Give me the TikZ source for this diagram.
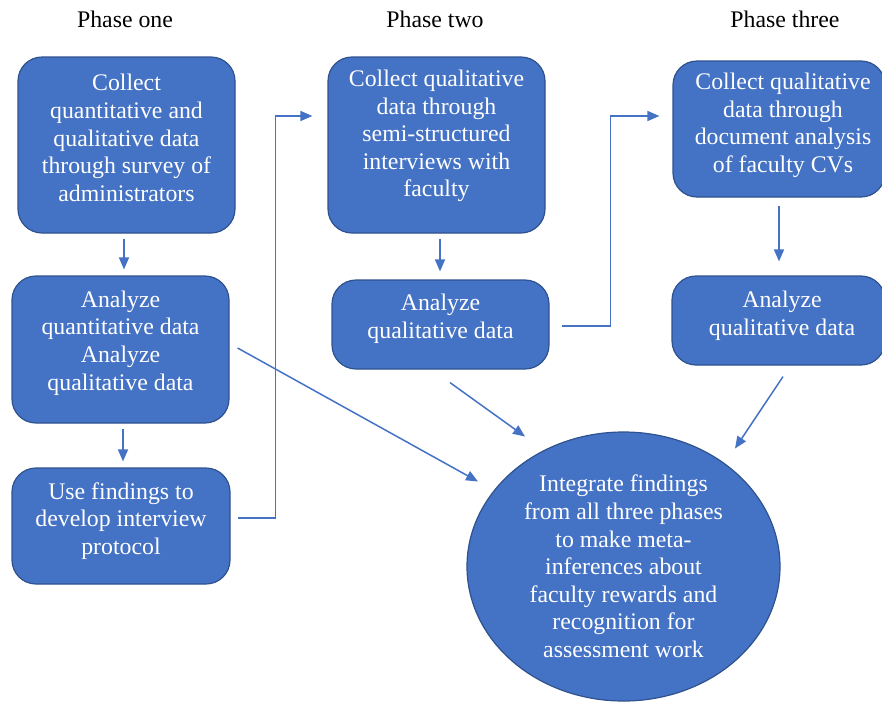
\documentclass[tikz,border=0pt]{standalone}
\usepackage{fontspec}
\setmainfont{Liberation Serif}
\usetikzlibrary{arrows.meta,shapes.geometric,calc}
\definecolor{boxfill}{HTML}{4472C4}
\definecolor{boxline}{HTML}{2F528F}
\tikzset{
  stepbox/.style={draw=boxline, fill=boxfill, line width=1.2pt, rounded corners=24pt, inner sep=0pt},
  bigoval/.style={ellipse, draw=boxline, fill=boxfill, line width=1.2pt, inner sep=0pt},
  boxtext/.style={text=white, align=center, font=\fontsize{23.8}{27.6}\selectfont, inner sep=0pt},
  phasetext/.style={text=black, font=\fontsize{23.8}{27}\selectfont, inner sep=0pt},
  arr/.style={draw=boxfill, line width=1.5pt, -{Triangle[length=12pt,width=10pt]}}
}
\begin{document}
\begin{tikzpicture}[x=1pt,y=-1pt]
\useasboundingbox (0,0) rectangle (882,702);
% phase labels
\node[phasetext] (P1) at (125,19) {Phase one};
\node[phasetext] (P2) at (435,19) {Phase two};
\node[phasetext] (P3) at (785,19) {Phase three};
% boxes
\node[stepbox, minimum width=217pt, minimum height=176pt] (A1) at (126.5,145) {};
\node[stepbox, minimum width=217pt, minimum height=147pt] (A2) at (120.5,349.5) {};
\node[stepbox, minimum width=218pt, minimum height=116pt] (A3) at (121,526) {};
\node[stepbox, minimum width=217pt, minimum height=176pt] (B1) at (436.5,145) {};
\node[stepbox, minimum width=217pt, minimum height=89pt] (B2) at (440.5,324.5) {};
\node[stepbox, minimum width=212pt, minimum height=136pt] (C1) at (779,129) {};
\node[stepbox, minimum width=213pt, minimum height=89pt] (C2) at (778.5,320.5) {};
\node[bigoval, minimum width=313pt, minimum height=269pt] (E) at (623.5,566.5) {};
% texts
\node[boxtext] (A1t) at (126.5,138) {Collect\\quantitative and\\qualitative data\\through survey of\\administrators};
\node[boxtext] (A2t) at (120.5,343) {Analyze\\quantitative data\\Analyze\\qualitative data};
\node[boxtext] (A3t) at (121,521) {Use findings to\\develop interview\\protocol};
\node[boxtext] (B1t) at (436.5,136) {Collect qualitative\\data through\\semi-structured\\interviews with\\faculty};
\node[boxtext] (B2t) at (440.5,319) {Analyze\\qualitative data};
\node[boxtext] (C1t) at (783,125.5) {Collect qualitative\\data through\\document analysis\\of faculty CVs};
\node[boxtext] (C2t) at (782,316) {Analyze\\qualitative data};
\node[boxtext] (Et) at (623.5,566.5) {Integrate findings\\from all three phases\\to make meta-\\inferences about\\faculty rewards and\\recognition for\\assessment work};
% connectors
\draw[arr, shorten <=5pt, shorten >=6pt] ([xshift=-2.5pt]A1.south) -- ([xshift=-2.5pt]A1.south |- A2.north);
\draw[arr, shorten <=5pt, shorten >=6pt] ([xshift=2.5pt]A2.south) -- ([xshift=2.5pt]A2.south |- A3.north);
\draw[arr, shorten <=7pt, shorten >=15pt] ([yshift=8pt]A3.east) -- ++(45,0) |- ([yshift=29pt]B1.west);
\draw[arr, shorten <=5pt, shorten >=8pt] ([xshift=3.5pt]B1.south) -- ([xshift=3.5pt]B1.south |- B2.north);
\draw[arr, shorten <=12pt, shorten >=13pt] ([yshift=-1.5pt]B2.east) -- ++(61,0) |- ([yshift=13pt]C1.west);
\draw[arr, shorten <=8pt, shorten >=14pt] (C1.south) -- (C1.south |- C2.north);
\draw[arr] ([xshift=4.5pt,yshift=-11pt]C2.south) -- ([xshift=111.5pt,yshift=118pt]E.center);
\draw[arr] ([xshift=9.5pt,yshift=-13pt]B2.south) -- ([xshift=-98.5pt,yshift=130pt]E.center);
\draw[arr] ([xshift=8pt,yshift=1.5pt]A2.east) -- ([xshift=-145.5pt,yshift=85pt]E.center);
\end{tikzpicture}
\end{document}
